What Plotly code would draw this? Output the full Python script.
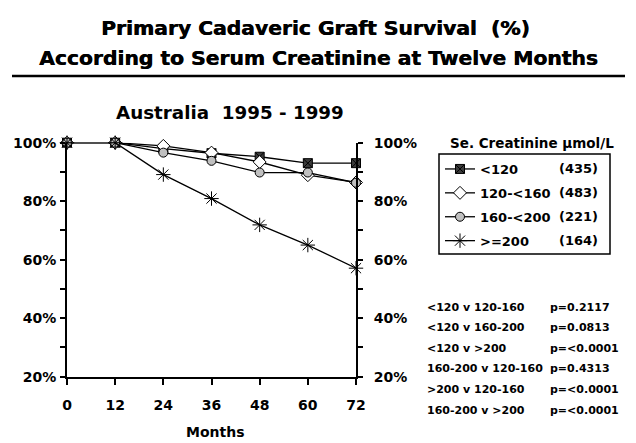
import plotly.graph_objects as go

# ---- data ----
months = [0, 12, 24, 36, 48, 60, 72]
series_names = ["<120", "120-<160", "160-<200", ">=200"]
series_counts = ["(435)", "(483)", "(221)", "(164)"]
surv_lt120 = [100, 100, 98.0, 96.4, 95.2, 93.0, 93.0]
surv_120_160 = [100, 100, 98.9, 96.6, 93.4, 88.9, 86.4]
surv_160_200 = [100, 100, 96.6, 93.8, 89.8, 89.8, 86.3]
surv_ge200 = [100, 100, 89.1, 80.9, 71.9, 65.0, 57.1]
y_ticks = [20, 40, 60, 80, 100]
x_ticks = [0, 12, 24, 36, 48, 60, 72]
comparisons = ["<120 v 120-160", "<120 v 160-200", "<120 v >200",
               "160-200 v 120-160", ">200 v 120-160", "160-200 v >200"]
p_values = ["p=0.2117", "p=0.0813", "p=<0.0001", "p=0.4313", "p=<0.0001", "p=<0.0001"]

# page body has an 8px margin; the figure is sized/offset to fit the 636x443 window
OFF = 8
W, H = 636 - OFF, 443 - OFF
FONT = "DejaVu Sans"


def px(x):
    return (x - OFF) / W


def py(y):
    return 1 - (y - OFF) / H


styles = [
    dict(symbol="square-x", size=9, color="#3a3a3a", line=dict(color="black", width=1)),
    dict(symbol="diamond", size=10, color="white", line=dict(color="black", width=1)),
    dict(symbol="circle", size=9, color="#c0c0c0", line=dict(color="black", width=1)),
    dict(symbol="asterisk-open", size=12, color="black", line=dict(color="black", width=1)),
]
all_series = [surv_lt120, surv_120_160, surv_160_200, surv_ge200]

fig = go.Figure()
for name, vals, st in zip(series_names, all_series, styles):
    fig.add_trace(go.Scatter(
        x=months, y=vals, name=name, mode="lines+markers",
        line=dict(color="black", width=1.3), marker=st, cliponaxis=False,
        legendgroup=name,
    ))
# invisible trace to drive right axis
fig.add_trace(go.Scatter(x=months, y=surv_ge200, yaxis="y2", showlegend=False,
                         mode="lines", line=dict(width=0), hoverinfo="skip", opacity=0))

tickfont = dict(family=FONT, size=14, color="black", weight="bold")
common_y = dict(range=[20, 100], tickmode="array", tickvals=y_ticks,
                ticktext=[f"{v}%" for v in y_ticks], showgrid=False,
                zeroline=False, showline=True, linecolor="black", linewidth=2,
                ticks="outside", ticklen=5, tickwidth=1.5, tickcolor="black",
                tickfont=tickfont, automargin=False,
                minor=dict(dtick=10, ticks="outside", ticklen=5, tickwidth=1.5, tickcolor="black"),
                domain=[py(376.7), py(142.7)])


def ann(text, x, y, size, xanchor="center", shadow=None):
    f = dict(family=FONT, size=size, color="black", weight="bold")
    if shadow:
        f["shadow"] = shadow
    return dict(text=text, x=px(x), y=py(y), xref="paper", yref="paper",
                xanchor=xanchor, yanchor="middle", showarrow=False, font=f)


heavy = "0.6px 0px 0px black"
annotations = [
    ann("Primary Cadaveric Graft Survival  (%)", 315, 28, 20.3, shadow=heavy),
    ann("According to Serum Creatinine at Twelve Months", 318, 58, 20.3, shadow=heavy),
    ann("Australia  1995 - 1999", 230, 112, 18.3),
    ann("Months", 215, 432, 14),
    ann("Se. Creatinine µmol/L", 532, 143, 13.5),
]
for i, c in enumerate(series_counts):
    annotations.append(ann(c, 600, 169 + 23.7 * i, 13, "right"))
for i, (c, p) in enumerate(zip(comparisons, p_values)):
    annotations.append(ann(c, 425, 307 + 20.6 * i, 11, "left"))
    annotations.append(ann(p, 548, 307 + 20.6 * i, 11, "left"))

fig.update_layout(
    width=W, height=H, margin=dict(l=0, r=0, t=0, b=0, autoexpand=False),
    paper_bgcolor="white", plot_bgcolor="white",
    showlegend=True,
    xaxis=dict(range=[0, 72], tickvals=x_ticks, domain=[px(67), px(356)], showgrid=False,
               zeroline=False, showline=True, linecolor="black", linewidth=2,
               ticks="outside", ticklen=6, tickwidth=1.5, tickcolor="black",
               tickfont=tickfont, ticklabelstandoff=8, automargin=False),
    yaxis=dict(**common_y, side="left", ticklabelstandoff=1),
    yaxis2=dict(**common_y, side="right", overlaying="y", anchor="x", ticklabelstandoff=8),
    legend=dict(x=px(440), y=py(154), xanchor="left", yanchor="top",
                bgcolor="rgba(0,0,0,0)", borderwidth=0, tracegroupgap=4,
                font=dict(family=FONT, size=13, color="black", weight="bold"),
                itemwidth=30),
    annotations=annotations,
    shapes=[
        dict(type="line", xref="paper", yref="paper", x0=px(12), x1=px(625), y0=py(76), y1=py(76),
             line=dict(color="black", width=2.5)),
        dict(type="rect", xref="paper", yref="paper", x0=px(439), x1=px(610), y0=py(154), y1=py(254),
             line=dict(color="black", width=1.5)),
    ],
)

fig.write_html("out.html")
